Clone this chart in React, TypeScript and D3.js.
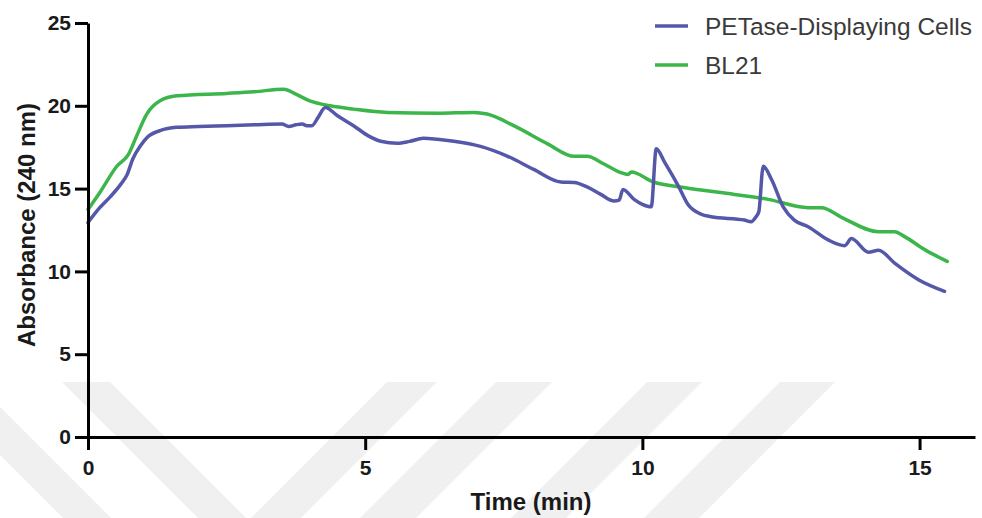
import React, { useEffect, useRef } from 'react';
import * as d3 from 'd3';

// PETase-displaying cells, absorbance at 240 nm over time
const petaseTime = [0, 0.2, 0.4, 0.6, 0.7, 0.81, 0.95, 1.07, 1.3, 1.6, 2.0, 2.5, 3.0, 3.5, 3.62, 3.75, 3.86, 3.95, 4.04, 4.15, 4.28, 4.5, 4.79, 5.05, 5.28, 5.58, 5.8, 6.05, 6.3, 6.6, 7.08, 7.57, 8.04, 8.53, 8.77, 9.02, 9.25, 9.49, 9.58, 9.65, 9.85, 10.0, 10.16, 10.25, 10.4, 10.65, 10.82, 11.06, 11.24, 11.84, 11.96, 12.05, 12.1, 12.18, 12.33, 12.54, 12.74, 12.99, 13.35, 13.65, 13.77, 14.08, 14.26, 14.55, 14.98, 15.45];
const petaseAbs = [12.95, 13.8, 14.5, 15.3, 15.8, 16.8, 17.6, 18.1, 18.5, 18.7, 18.75, 18.8, 18.85, 18.9, 18.75, 18.85, 18.9, 18.8, 18.8, 19.3, 19.9, 19.4, 18.8, 18.2, 17.86, 17.74, 17.85, 18.04, 17.98, 17.86, 17.55, 16.95, 16.16, 15.4, 15.37, 15.07, 14.65, 14.25, 14.3, 14.95, 14.35, 14.05, 13.9, 17.4, 16.6, 15.15, 14.05, 13.45, 13.3, 13.1, 13.0, 13.3, 13.6, 16.35, 15.55, 13.9, 13.1, 12.7, 11.9, 11.55, 11.98, 11.15, 11.28, 10.5, 9.5, 8.8];

// BL21 control
const bl21Time = [0, 0.22, 0.52, 0.73, 0.88, 1.06, 1.3, 1.6, 2.5, 3.0, 3.53, 3.75, 4.0, 4.37, 4.79, 5.4, 6.3, 6.96, 7.2, 7.68, 8.29, 8.77, 9.0, 9.3, 9.6, 9.74, 9.8, 10.2, 10.75, 11.66, 12.27, 12.99, 13.23, 13.6, 14.26, 14.55, 14.73, 15.1, 15.5];
const bl21Abs = [13.74, 14.8, 16.35, 17.07, 18.2, 19.5, 20.3, 20.6, 20.75, 20.85, 21.0, 20.7, 20.3, 20.0, 19.8, 19.6, 19.55, 19.6, 19.5, 18.8, 17.7, 16.95, 16.95, 16.5, 15.98, 15.85, 16.0, 15.4, 15.07, 14.65, 14.35, 13.85, 13.85, 13.25, 12.4, 12.4, 12.1, 11.3, 10.6];

const xTicks = [0, 5, 10, 15];
const yTicks = [0, 5, 10, 15, 20, 25];

const seriesNames = ['PETase-Displaying Cells', 'BL21'];
const seriesColors = ['#5558a8', '#3cb54a'];

const WIDTH = 982;
const HEIGHT = 518;
const FONT = "Arial, 'Liberation Sans', sans-serif";

export default function App() {
    const ref = useRef<SVGSVGElement>(null);

    useEffect(() => {
        const svg = d3.select(ref.current);
        svg.selectAll('*').remove();

        const x = d3.scaleLinear().domain([0, 16]).range([88, 975]);
        const y = d3.scaleLinear().domain([0, 25]).range([437, 23]);

        // faint watermark stripes behind the chart
        const wm = svg.append('g').attr('fill', '#f0f0f0');
        const top = 382;
        const h = HEIGHT - top;
        const down = [[-73, -25], [62, 110]];
        const up = [[387, 437], [496, 552], [647, 702], [780, 835]];
        down.forEach(([a, b]) => {
            wm.append('polygon').attr('points', `${a},${top} ${b},${top} ${b + h},${HEIGHT} ${a + h},${HEIGHT}`);
        });
        up.forEach(([a, b]) => {
            wm.append('polygon').attr('points', `${a},${top} ${b},${top} ${b - h},${HEIGHT} ${a - h},${HEIGHT}`);
        });

        const line = d3.line<[number, number]>()
            .x(d => x(d[0]))
            .y(d => y(d[1]))
            .curve(d3.curveMonotoneX);

        const series = [
            bl21Time.map((t, i) => [t, bl21Abs[i]] as [number, number]),
            petaseTime.map((t, i) => [t, petaseAbs[i]] as [number, number]),
        ];
        const colors = [seriesColors[1], seriesColors[0]];
        series.forEach((s, i) => {
            svg.append('path')
                .attr('d', line(s))
                .attr('fill', 'none')
                .attr('stroke', colors[i])
                .attr('stroke-width', 3.5)
                .attr('stroke-linejoin', 'round')
                .attr('stroke-linecap', 'round');
        });

        // axes
        const xAxis = svg.append('g')
            .attr('transform', 'translate(0,437)')
            .call(d3.axisBottom(x).tickValues(xTicks).tickSize(13).tickSizeOuter(0).tickPadding(10));
        const yAxis = svg.append('g')
            .attr('transform', 'translate(88,0)')
            .call(d3.axisLeft(y).tickValues(yTicks).tickSize(13).tickSizeOuter(0).tickPadding(4));

        [xAxis, yAxis].forEach(g => {
            g.select('.domain').attr('stroke', '#000').attr('stroke-width', 3);
            g.selectAll('.tick line').attr('stroke', '#000').attr('stroke-width', 3);
            g.selectAll('.tick text')
                .attr('fill', '#1a1a1a')
                .attr('font-family', FONT)
                .attr('font-weight', 'bold')
                .attr('font-size', 21);
        });

        svg.append('text')
            .attr('x', 531)
            .attr('y', 510)
            .attr('text-anchor', 'middle')
            .attr('font-family', FONT)
            .attr('font-weight', 'bold')
            .attr('font-size', 24)
            .attr('fill', '#1a1a1a')
            .text('Time (min)');

        svg.append('text')
            .attr('transform', 'translate(35,225) rotate(-90)')
            .attr('text-anchor', 'middle')
            .attr('font-family', FONT)
            .attr('font-weight', 'bold')
            .attr('font-size', 24)
            .attr('fill', '#1a1a1a')
            .text('Absorbance (240 nm)');

        // legend
        const legend = svg.append('g');
        seriesNames.forEach((name, i) => {
            const ly = 26 + i * 39;
            legend.append('line')
                .attr('x1', 655).attr('x2', 688)
                .attr('y1', ly).attr('y2', ly)
                .attr('stroke', seriesColors[i])
                .attr('stroke-width', 3.5);
            legend.append('text')
                .attr('x', 705)
                .attr('y', ly)
                .attr('dy', '0.36em')
                .attr('font-family', FONT)
                .attr('font-size', 24.5)
                .attr('fill', '#3a3a3a')
                .text(name);
        });
    }, []);

    return (
        <svg ref={ref} width={WIDTH} height={HEIGHT}
            style={{ position: 'absolute', left: 0, top: 0, background: '#fff' }} />
    );
}
